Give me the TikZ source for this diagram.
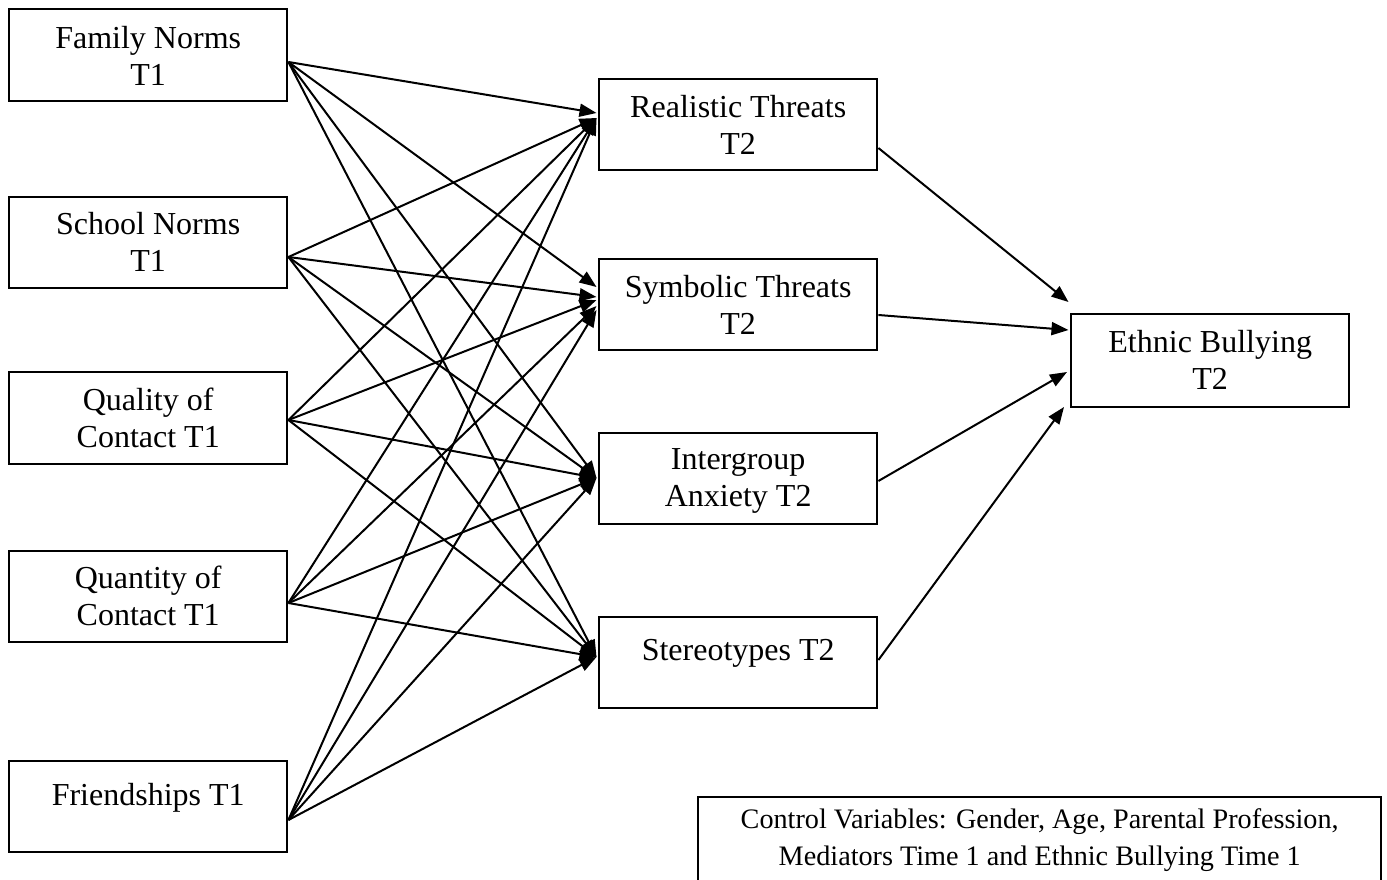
\documentclass[tikz,border=0pt]{standalone}
\usepackage{fontspec}
\setmainfont{Liberation Serif}
\usetikzlibrary{arrows.meta,calc}
\begin{document}
\begin{tikzpicture}[x=1pt,y=-1pt,
  box/.style={draw, line width=2.4pt, minimum width=278pt, minimum height=91pt,
    inner sep=0pt, anchor=north west},
  txt/.style={anchor=north, inner sep=0pt, align=center,
    font=\fontsize{32}{37}\selectfont, execute at begin node=\strut},
  link/.style={line width=2pt, -{Triangle[length=17pt,width=13pt]}}]
\useasboundingbox (0,0) rectangle (1387,880);

% predictors (T1)
\node[box, minimum height=92pt] (fam) at (8,8) {};
\node[box] (sch) at (8,196) {};
\node[box, minimum height=92pt] (qual) at (8,371) {};
\node[box] (quan) at (8,550) {};
\node[box] (fr) at (8,760) {};
% mediators (T2)
\node[box] (real) at (598,78) {};
\node[box] (sym) at (598,258) {};
\node[box] (anx) at (598,432) {};
\node[box] (ster) at (598,616) {};
% outcome
\node[box, minimum height=93pt] (eb) at (1070,313) {};
% controls
\node[box, minimum width=683pt, minimum height=100pt] (ctl) at (697,796) {};

% labels
\node[txt] (famT) at ($(fam.north)+(0,18)$) {Family Norms\\T1};
\node[txt] (schT) at ($(sch.north)+(0,16)$) {School Norms\\T1};
\node[txt] (qualT) at ($(qual.north)+(0,17)$) {Quality of\\Contact T1};
\node[txt] (quanT) at ($(quan.north)+(0,16)$) {Quantity of\\Contact T1};
\node[txt] (frT) at ($(fr.north)+(0,19)$) {Friendships T1};
\node[txt] (realT) at ($(real.north)+(0,17)$) {Realistic Threats\\T2};
\node[txt] (symT) at ($(sym.north)+(0,17)$) {Symbolic Threats\\T2};
\node[txt] (anxT) at ($(anx.north)+(0,16)$) {Intergroup\\Anxiety T2};
\node[txt] (sterT) at ($(ster.north)+(0,18)$) {Stereotypes T2};
\node[txt] (ebT) at ($(eb.north)+(0,17)$) {Ethnic Bullying\\T2};
\node[txt, font=\fontsize{28.2}{37}\selectfont] (ctlT) at ($(ctl.north)+(0,12)$)
  {Control Variables: Gender, Age, Parental Profession,\\Mediators Time 1 and Ethnic Bullying Time 1};

% connector origins on the predictor boxes
\coordinate (famO) at ($(fam.north east)+(0,54)$);
\coordinate (schO) at ($(sch.north east)+(0,61)$);
\coordinate (qualO) at ($(qual.north east)+(0,49)$);
\coordinate (quanO) at ($(quan.north east)+(0,53)$);
\coordinate (frO) at ($(fr.north east)+(0,60)$);

% predictors -> mediators
\foreach \s/\t/\dy in {
  fam/real/35, sch/real/40, qual/real/40, quan/real/40, fr/real/40,
  fam/sym/29, sch/sym/39, qual/sym/42, quan/sym/48, fr/sym/52,
  fam/anx/46, sch/anx/46, qual/anx/46, quan/anx/46, fr/anx/46,
  fam/ster/41, sch/ster/41, qual/ster/41, quan/ster/41, fr/ster/41}
  \draw[link] (\s O) -- ($(\t.north west)+(-1.5,\dy)$);

% mediators -> ethnic bullying
\draw[link] ($(real.north east)+(0,70)$) -- ($(eb.north west)+(-1.5,-11)$);
\draw[link] ($(sym.north east)+(0,57)$) -- ($(eb.north west)+(-1.5,17)$);
\draw[link] ($(anx.north east)+(0,49)$) -- ($(eb.north west)+(-3,59)$);
\draw[link] ($(ster.north east)+(0,44)$) -- ($(eb.north west)+(-6,94)$);
\end{tikzpicture}
\end{document}
